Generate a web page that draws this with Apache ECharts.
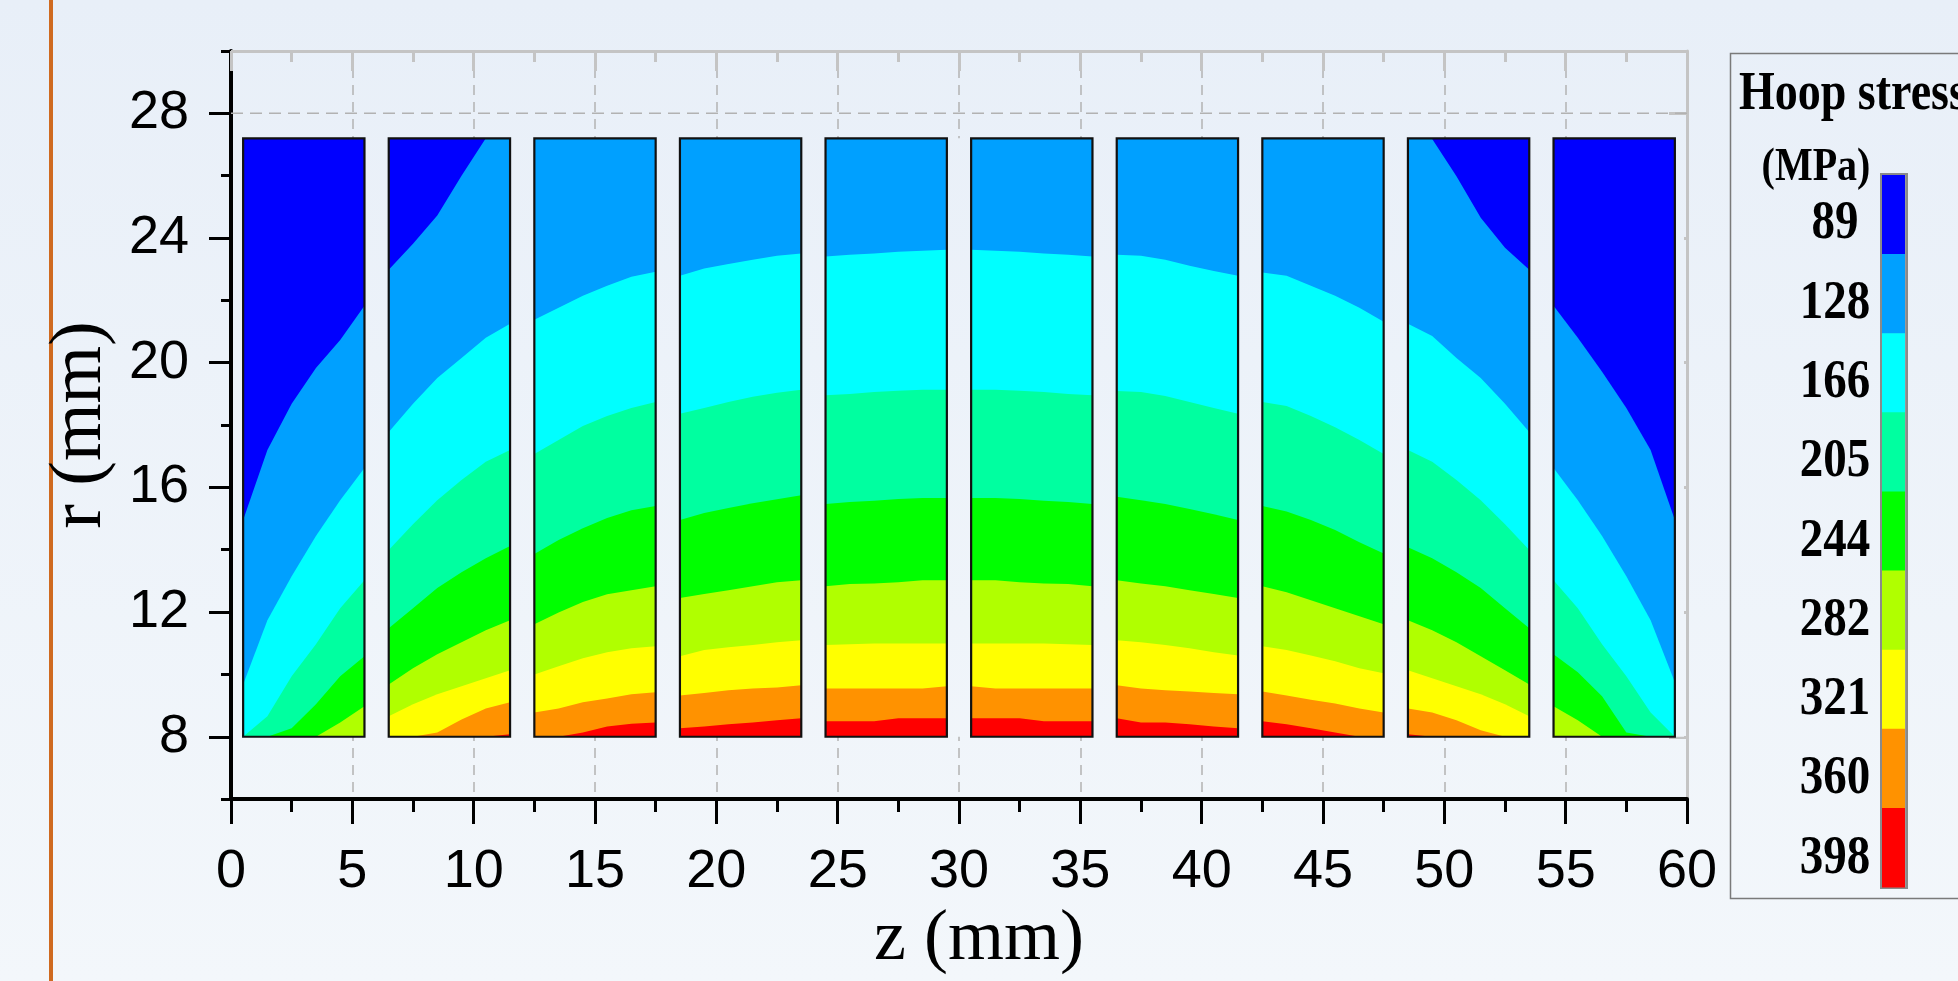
<!DOCTYPE html>
<html>
<head>
<meta charset="utf-8">
<script src="https://cdn.jsdelivr.net/npm/echarts@6/dist/echarts.min.js"></script>
<style>
html,body{margin:0;padding:0;}
body{background:linear-gradient(180deg,#e8eff8 0%,#f3f7fb 100%);}
#c{width:1958px;height:981px;}
</style>
</head>
<body>
<div id="c"></div>
<script>
// ---------------- data ----------------
// colour levels of the hoop stress legend (MPa)
const levels = [89, 128, 166, 205, 244, 282, 321, 360, 398];
const levelColors = ['#0000FF', '#00A0FF', '#00FFFF', '#00FFA0', '#00FF00', '#B0FF00', '#FFFF00', '#FF9200', '#FF0000'];

// axes
const xMin = 0, xMax = 60, xStep = 5;
const yMin = 6, yMax = 30;
const yMajorTicks = [8, 12, 16, 20, 24, 28];
const yMinorTicks = [6, 10, 14, 18, 22, 26, 30];
const gridR = 28;

// the ten rings (z start, mm) and their radial extent (mm)
const blockStart = [0.5, 6.5, 12.5, 18.5, 24.5, 30.5, 36.5, 42.5, 48.5, 54.5];
const blockWidth = 5;
const rInner = 8;
const rOuter = 27.2;
// z offsets (mm, from block start) at which band boundaries were read
const sampleOffsets = [0, 1, 2, 3, 4, 5];

// band boundaries r (mm) for each block; row k separates levels[k] from levels[k+1]
// null = boundary not inside the block
const block01 = [
  [14.95, 17.20, 18.68, 19.83, 20.73, 21.83],
  [9.68, 11.74, 13.15, 14.44, 15.59, 16.62],
  [7.37, 8.66, 9.94, 10.97, 12.12, 13.02],
  [5.96, 7.11, 8.27, 9.04, 9.94, 10.58],
  [5.70, 6.47, 7.18, 7.82, 8.46, 8.98],
  null, null, null
];
const block02 = [
  [22.98, 23.82, 24.72, 26.00, 27.22, 28.31],
  [17.78, 18.68, 19.51, 20.15, 20.80, 21.25],
  [13.99, 14.82, 15.59, 16.24, 16.82, 17.20],
  [11.48, 12.12, 12.77, 13.28, 13.73, 14.12],
  [9.68, 10.20, 10.65, 11.03, 11.42, 11.74],
  [8.66, 9.04, 9.36, 9.62, 9.88, 10.13],
  [6.97, 7.63, 8.14, 8.55, 8.91, 9.11],
  [6.22, 6.60, 6.99, 7.37, 7.76, 8.08]
];
const block03 = [
  null,
  [21.38, 21.76, 22.15, 22.47, 22.76, 22.92],
  [17.07, 17.52, 17.97, 18.29, 18.55, 18.74],
  [13.86, 14.31, 14.69, 15.02, 15.27, 15.40],
  [11.61, 11.99, 12.32, 12.57, 12.70, 12.83],
  [10.00, 10.26, 10.52, 10.71, 10.84, 10.90],
  [8.78, 8.91, 9.11, 9.23, 9.36, 9.43],
  [7.69, 7.95, 8.14, 8.33, 8.42, 8.46]
];
const block04 = [
  null,
  [22.79, 23.02, 23.17, 23.30, 23.43, 23.50],
  [18.36, 18.55, 18.74, 18.91, 19.04, 19.13],
  [14.95, 15.18, 15.34, 15.49, 15.62, 15.75],
  [12.45, 12.58, 12.70, 12.83, 12.96, 13.02],
  [10.58, 10.78, 10.87, 10.94, 11.03, 11.10],
  [9.32, 9.40, 9.49, 9.55, 9.58, 9.65],
  [8.27, 8.33, 8.40, 8.46, 8.53, 8.59]
];
const block05 = [
  null,
  [23.41, 23.46, 23.50, 23.56, 23.59, 23.62],
  [18.96, 19.00, 19.06, 19.10, 19.13, 19.13],
  [15.47, 15.53, 15.57, 15.63, 15.66, 15.66],
  [12.83, 12.90, 12.92, 12.96, 13.02, 13.02],
  [10.94, 10.97, 10.99, 10.99, 10.99, 10.99],
  [9.55, 9.55, 9.55, 9.55, 9.55, 9.62],
  [8.50, 8.50, 8.50, 8.59, 8.59, 8.59]
];
const block06 = [
  null,
  [23.62, 23.59, 23.56, 23.50, 23.46, 23.41],
  [19.13, 19.13, 19.10, 19.06, 19.00, 18.96],
  [15.66, 15.66, 15.63, 15.57, 15.53, 15.47],
  [13.02, 13.02, 12.96, 12.92, 12.90, 12.83],
  [10.99, 10.99, 10.99, 10.99, 10.97, 10.94],
  [9.62, 9.55, 9.55, 9.55, 9.55, 9.55],
  [8.59, 8.59, 8.59, 8.50, 8.50, 8.50]
];
const block07 = [
  null,
  [23.46, 23.43, 23.30, 23.11, 22.94, 22.79],
  [19.09, 19.06, 18.93, 18.74, 18.55, 18.36],
  [15.70, 15.59, 15.47, 15.31, 15.14, 14.95],
  [13.02, 12.92, 12.83, 12.70, 12.58, 12.45],
  [11.10, 11.03, 10.94, 10.84, 10.71, 10.61],
  [9.65, 9.55, 9.49, 9.45, 9.40, 9.36],
  [8.59, 8.46, 8.46, 8.40, 8.33, 8.27]
];
const block08 = [
  null,
  [22.89, 22.79, 22.47, 22.15, 21.76, 21.31],
  [18.74, 18.61, 18.29, 17.93, 17.52, 17.07],
  [15.40, 15.23, 14.95, 14.63, 14.24, 13.88],
  [12.83, 12.64, 12.38, 12.12, 11.87, 11.61],
  [10.90, 10.78, 10.61, 10.42, 10.20, 10.04],
  [9.45, 9.32, 9.19, 9.07, 8.91, 8.78],
  [8.50, 8.40, 8.27, 8.14, 7.95, 7.76]
];
const block09 = [
  [28.31, 27.18, 25.98, 24.65, 23.69, 22.98],
  [21.25, 20.86, 20.15, 19.51, 18.68, 17.78],
  [17.20, 16.82, 16.24, 15.59, 14.82, 13.99],
  [14.08, 13.73, 13.28, 12.77, 12.12, 11.48],
  [11.74, 11.42, 11.03, 10.58, 10.13, 9.68],
  [10.13, 9.88, 9.62, 9.36, 9.04, 8.66],
  [8.91, 8.78, 8.53, 8.21, 7.82, 7.37],
  [8.08, 7.69, 7.31, 6.92, 6.54, 6.15]
];
const block10 = [
  [21.83, 20.80, 19.71, 18.55, 17.20, 14.95],
  [16.62, 15.59, 14.44, 13.15, 11.74, 9.75],
  [13.02, 12.12, 10.97, 9.94, 8.78, 7.37],
  [10.65, 10.07, 9.30, 8.14, 6.99, 5.83],
  [8.98, 8.53, 7.82, 6.99, 6.22, 5.44],
  null, null, null
];
const blocks = [block01, block02, block03, block04, block05, block06, block07, block08, block09, block10];

// ---------------- drawing ----------------
const SANS = '"Liberation Sans", Arial, Helvetica, sans-serif';
const SERIF = '"Liberation Serif", "Times New Roman", Times, serif';
const pageGradient = () => new echarts.graphic.LinearGradient(0, 0, 0, 981,
  [{ offset: 0, color: '#e8eff8' }, { offset: 1, color: '#f3f7fb' }], true);

function clampR(r) { return Math.max(rInner, Math.min(rOuter, r)); }

function renderBlock(params, api) {
  const i = params.dataIndex;
  const z0 = api.value(0), z1 = api.value(1);
  const B = blocks[i];
  const P = (z, r) => api.coord([z, r]);
  const rect = [P(z0, rOuter), P(z1, rOuter), P(z1, rInner), P(z0, rInner)];
  const children = [{ type: 'polygon', shape: { points: rect }, style: { fill: levelColors[0] } }];
  let seen = false;
  for (let k = 0; k < B.length; k++) {
    const row = B[k];
    if (row == null) {
      if (!seen) children.push({ type: 'polygon', shape: { points: rect }, style: { fill: levelColors[k + 1] } });
      continue;
    }
    seen = true;
    const pts = sampleOffsets.map((u, j) => P(z0 + u, clampR(row[j])));
    pts.push(P(z1, rInner), P(z0, rInner));
    children.push({ type: 'polygon', shape: { points: pts }, style: { fill: levelColors[k + 1] } });
  }
  children.push({ type: 'polygon', shape: { points: rect }, style: { fill: 'none', stroke: '#111', lineWidth: 2.2 } });
  return { type: 'group', children };
}

// the band r = rInner..rOuter hides the grid lines in the gaps between rings
function renderMask(params, api) {
  const a = api.coord([api.value(0), api.value(3)]);
  const b = api.coord([api.value(1), api.value(2)]);
  return { type: 'rect', shape: { x: a[0] + 3, y: a[1], width: b[0] - a[0] - 6, height: b[1] - a[1] },
    style: { fill: pageGradient() } };
}

// legend (colour bar) graphics
const barX = 1882, barTop = 175, barBottom = 887, barW = 23;
const segH = (barBottom - barTop) / levels.length;
const legendGraphics = [
  { type: 'rect', silent: true, shape: { x: 49, y: 0, width: 4, height: 981 }, style: { fill: '#cf6a20' } },
  { type: 'rect', silent: true, shape: { x: 1730.5, y: 53.5, width: 300, height: 845 }, style: { fill: 'none', stroke: '#7a7a7a', lineWidth: 1.5 } },
  { type: 'text', silent: true, x: 1739, y: 95, scaleY: 1.2,
    style: { text: 'Hoop stress', fontFamily: SERIF, fontWeight: 'bold', fontSize: 46, fill: '#000', align: 'left', verticalAlign: 'middle' } },
  { type: 'text', silent: true, x: 1816, y: 168, scaleY: 1.15,
    style: { text: '(MPa)', fontFamily: SERIF, fontWeight: 'bold', fontSize: 40, fill: '#000', align: 'center', verticalAlign: 'middle' } },
  { type: 'rect', silent: true, shape: { x: barX - 1, y: barTop - 1, width: barW + 3, height: barBottom - barTop + 2 },
    style: { fill: '#9a9a9a', stroke: '#8a8a8a', lineWidth: 2 } }
];
levels.forEach((lv, k) => {
  legendGraphics.push({ type: 'rect', silent: true,
    shape: { x: barX, y: barTop + k * segH, width: barW, height: segH + 0.6 },
    style: { fill: levelColors[k] } });
  legendGraphics.push({ type: 'text', silent: true, x: 1835, y: 224 + k * 79.3, scaleY: 1.18,
    style: { text: String(lv), fontFamily: SERIF, fontWeight: 'bold', fontSize: 47, fill: '#000', align: 'center', verticalAlign: 'middle' } });
});

const chart = echarts.init(document.getElementById('c'), null, { renderer: 'canvas' });
chart.setOption({
  animation: false,
  backgroundColor: 'transparent',
  grid: { left: 231, right: 271, top: 51, bottom: 176, containLabel: false },
  xAxis: [
    {
      type: 'value', min: xMin, max: xMax, interval: xStep, position: 'bottom',
      axisLine: { show: true, onZero: false, lineStyle: { color: '#000', width: 4 } },
      axisTick: { show: true, length: 25, lineStyle: { color: '#000', width: 3 } },
      minorTick: { show: true, splitNumber: 2, length: 13, lineStyle: { color: '#000', width: 3 } },
      axisLabel: { fontSize: 54, fontFamily: SANS, color: '#000', margin: 46 },
      splitLine: { show: true, lineStyle: { color: '#b2b2b2', width: 1.5, type: [10, 7] } },
      name: 'z (mm)', nameLocation: 'middle', nameGap: 102,
      nameTextStyle: { fontSize: 72, fontFamily: SERIF, color: '#000', padding: [0, 0, 0, 40] }
    },
    {
      type: 'value', min: xMin, max: xMax, interval: xStep, position: 'top',
      axisLine: { show: true, onZero: false, lineStyle: { color: '#c4c4c4', width: 3 } },
      axisTick: { show: true, inside: true, length: 20, lineStyle: { color: '#c4c4c4', width: 3 } },
      minorTick: { show: true, splitNumber: 2, length: 11, lineStyle: { color: '#c4c4c4', width: 3 } },
      axisLabel: { show: false }, splitLine: { show: false }
    }
  ],
  yAxis: [
    {
      type: 'value', min: yMin, max: yMax, position: 'left',
      axisLine: { show: true, onZero: false, lineStyle: { color: '#000', width: 4 } },
      axisTick: { show: true, length: 22, customValues: yMajorTicks, lineStyle: { color: '#000', width: 3 } },
      axisLabel: { fontSize: 54, fontFamily: SANS, color: '#000', margin: 42, customValues: yMajorTicks },
      splitLine: { show: false },
      name: 'r (mm)', nameLocation: 'middle', nameRotate: 90, nameGap: 113,
      nameTextStyle: { fontSize: 74, fontFamily: SERIF, color: '#000' }
    },
    {
      type: 'value', min: yMin, max: yMax, position: 'left',
      axisLine: { show: false, onZero: false },
      axisTick: { show: true, length: 10, customValues: yMinorTicks, lineStyle: { color: '#000', width: 3 } },
      axisLabel: { show: false }, splitLine: { show: false }
    },
    {
      type: 'value', min: yMin, max: yMax, position: 'right',
      axisLine: { show: true, onZero: false, lineStyle: { color: '#c4c4c4', width: 3 } },
      axisTick: { show: true, inside: true, length: 18, customValues: yMajorTicks, lineStyle: { color: '#c4c4c4', width: 3 } },
      axisLabel: { show: false }, splitLine: { show: false }
    }
  ],
  graphic: legendGraphics,
  series: [
    {
      type: 'line', xAxisIndex: 0, yAxisIndex: 0, silent: true, z: 1,
      data: [[xMin, gridR], [xMax, gridR]], symbol: 'none',
      lineStyle: { color: '#b2b2b2', width: 1.5, type: [12, 7] }
    },
    {
      type: 'custom', xAxisIndex: 0, yAxisIndex: 0, silent: true, z: 3,
      data: [[xMin, xMax, rInner, rOuter]],
      encode: { x: [0, 1], y: [2, 3] },
      renderItem: renderMask
    },
    {
      type: 'custom', xAxisIndex: 0, yAxisIndex: 0, silent: true, z: 5,
      data: blockStart.map(s => [s, s + blockWidth, rInner, rOuter]),
      encode: { x: [0, 1], y: [2, 3] },
      renderItem: renderBlock
    }
  ]
});
</script>
</body>
</html>
